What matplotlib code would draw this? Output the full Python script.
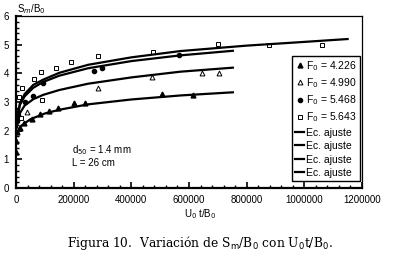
import numpy as np
import matplotlib; matplotlib.use('Agg')
import matplotlib.pyplot as plt
from matplotlib.ticker import MultipleLocator, FormatStrFormatter

plt.rcParams['font.family'] = ['Liberation Sans', 'DejaVu Sans']

# measured points, one series per F0
x_f1 = [1000, 1500, 3000, 14000, 28000, 54000, 83000, 115000, 147000, 200000, 239000, 505000, 613000]
y_f1 = [1.25, 1.65, 1.95, 2.08, 2.28, 2.42, 2.60, 2.70, 2.78, 2.96, 2.98, 3.27, 3.25]

x_f2 = [2000, 39000, 283000, 470000, 646000, 704000]
y_f2 = [2.05, 2.66, 3.48, 3.88, 4.00, 4.02]

x_f3 = [2000, 8000, 30000, 58000, 93000, 270000, 298000, 567000]
y_f3 = [2.35, 2.55, 3.01, 3.20, 3.66, 4.08, 4.20, 4.63]

x_f4 = [3000, 10400, 18400, 22000, 64000, 87000, 89000, 137000, 190000, 286000,
        476000, 702000, 879000, 1060000]
y_f4 = [2.70, 3.16, 2.43, 3.48, 3.80, 4.04, 3.07, 4.19, 4.41, 4.60,
        4.75, 5.02, 4.99, 4.99]

# fitted curves
xc_f1 = [3000, 15000, 50000, 100000, 150000, 250000, 400000, 570000, 752000]
yc_f1 = [1.92, 2.15, 2.40, 2.60, 2.73, 2.92, 3.09, 3.23, 3.34]

xc_f2 = [3000, 14000, 30000, 60000, 94000, 150000, 250000, 400000, 570000, 752000]
yc_f2 = [2.15, 2.62, 2.88, 3.10, 3.25, 3.42, 3.64, 3.86, 4.06, 4.20]

xc_f3 = [3000, 14000, 30000, 60000, 94000, 150000, 250000, 400000, 570000, 752000]
yc_f3 = [2.40, 2.91, 3.20, 3.50, 3.70, 3.92, 4.18, 4.43, 4.63, 4.79]

xc_f4 = [3000, 14000, 30000, 60000, 94000, 150000, 250000, 400000, 570000, 800000,
         1000000, 1150000]
yc_f4 = [2.45, 2.97, 3.28, 3.60, 3.78, 4.02, 4.30, 4.56, 4.78, 4.97, 5.10, 5.20]

labels = ['F$_0$ = 4.226', 'F$_0$ = 4.990', 'F$_0$ = 5.468', 'F$_0$ = 5.643']

fig = plt.figure(figsize=(4.0, 2.6), dpi=100)
ax = fig.add_axes([0.04, 0.277, 0.865, 0.661])

ms = 3.5
ax.plot(x_f1, y_f1, '^', color='k', ms=ms, ls='none', label=labels[0])
ax.plot(x_f2, y_f2, '^', mfc='white', mec='k', mew=0.7, ms=ms, ls='none', label=labels[1])
ax.plot(x_f3, y_f3, 'o', color='k', ms=3, ls='none', label=labels[2])
ax.plot(x_f4, y_f4, 's', mfc='white', mec='k', mew=0.7, ms=ms, ls='none', label=labels[3])

for xc, yc in [(xc_f1, yc_f1), (xc_f2, yc_f2), (xc_f3, yc_f3), (xc_f4, yc_f4)]:
    ax.plot(xc, yc, '-', color='k', lw=1.6, label='Ec. ajuste')

ax.set_xlim(0, 1200000)
ax.set_ylim(0, 6)
ax.xaxis.set_major_locator(MultipleLocator(200000))
ax.xaxis.set_minor_locator(MultipleLocator(40000))
ax.xaxis.set_major_formatter(FormatStrFormatter('%d'))
ax.yaxis.set_major_locator(MultipleLocator(1))
ax.yaxis.set_minor_locator(MultipleLocator(0.2))
ax.yaxis.set_major_formatter(FormatStrFormatter('%d'))
ax.tick_params(which='both', direction='in', top=False, right=False, labelsize=7, pad=5)
ax.tick_params(which='major', length=4, width=1.2)
ax.tick_params(which='minor', length=2, width=1.0)
ax.spines['left'].set_linewidth(1.6)
ax.spines['bottom'].set_linewidth(1.6)
ax.spines['top'].set_linewidth(0.9)
ax.spines['right'].set_linewidth(0.9)

ax.text(0.162, 0.22, 'd$_{50}$ = 1.4 mm', transform=ax.transAxes, fontsize=7, va='center')
ax.text(0.162, 0.145, 'L = 26 cm', transform=ax.transAxes, fontsize=7, va='center')

leg = ax.legend(loc='lower right', bbox_to_anchor=(0.995, 0.04), fontsize=7.5,
                frameon=True, fancybox=False, edgecolor='k', framealpha=1,
                handlelength=0.9, handletextpad=0.2, labelspacing=0.33,
                borderpad=0.3, borderaxespad=0)
leg.get_frame().set_linewidth(1.0)

fig.text(0.043, 0.965, 'S$_m$/B$_0$', fontsize=7, va='center')
fig.text(0.5, 0.178, 'U$_0$ t/B$_0$', fontsize=7, ha='center', va='center')
fig.text(0.5, 0.065, 'Figura 10.  Variación de S$_\\mathrm{m}$/B$_0$ con U$_0$t/B$_0$.',
         fontsize=8.8, family='DejaVu Serif', ha='center', va='center')

fig.savefig('out.png', dpi=100)
